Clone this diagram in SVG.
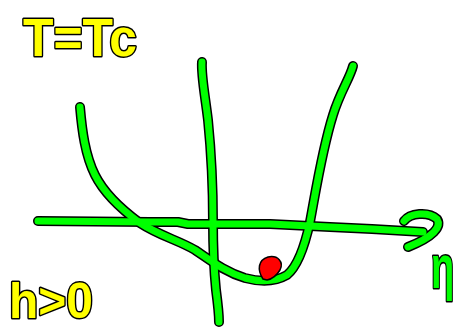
<svg xmlns="http://www.w3.org/2000/svg" width="458" height="330" viewBox="0 0 458 330">
<style>
.o{fill:none;stroke:#000;stroke-width:10;stroke-linecap:round;stroke-linejoin:round}
.g{fill:none;stroke:#00ff00;stroke-width:7;stroke-linecap:round;stroke-linejoin:round}
.lbl{font-family:"Liberation Sans",Arial,sans-serif;font-weight:bold;fill:#ffff00;stroke:#000;stroke-width:3;paint-order:stroke;stroke-linejoin:round}
.eta{font-family:"Liberation Sans",Arial,sans-serif;font-weight:bold;fill:#00ff00;stroke:#000;stroke-width:2;paint-order:stroke;stroke-linejoin:round}
</style>
<defs>
<path id="haxis" d="M38,221 L150,222 L178,222 L188,224 L270,224 L330,227 L372,229 L423,232"/>
<path id="arrow" d="M404,221 C410,213 428,211 437,219 C442,227 433,237 408,247"/>
<path id="vaxis" d="M202,62 C201,75 205,95 208,120 C211,150 213,180 213,222 C213,250 214,270 216,290 C218,305 219,315 219,322"/>
<path id="curve" d="M80,107 C82,130 85,155 95,175 C105,195 125,212 140,223 C160,236 178,240 195,250 C210,260 225,272 245,278 C260,282 275,282 287,275 C298,266 305,245 310,222 C316,190 322,150 333,115 C340,92 350,78 353,66"/>
</defs>
<g id="connectors">
<use href="#haxis" class="o"/>
<use href="#arrow" class="o"/>
<use href="#vaxis" class="o"/>
<use href="#curve" class="o"/>
<use href="#haxis" class="g"/>
<use href="#arrow" class="g"/>
<use href="#vaxis" class="g"/>
<use href="#curve" class="g"/>
</g>
<g id="ball">
<path d="M263,279 C257,270 258,260 268,257 C278,255 284,262 280,270 C277,275 272,279 267,280 Z" fill="#ff0000" stroke="#000" stroke-width="1.5"/>
</g>
<g id="label-t">
<text class="lbl" x="23" y="56" font-size="54" textLength="114" lengthAdjust="spacingAndGlyphs">T=Tc</text>
</g>
<g id="label-h">
<text class="lbl" x="9" y="318" font-size="50" textLength="84" lengthAdjust="spacingAndGlyphs">h&gt;0</text>
</g>
<g id="label-eta">
<text class="eta" transform="translate(431,288) scale(1,1.6)" font-size="38">η</text>
</g>
</svg>
